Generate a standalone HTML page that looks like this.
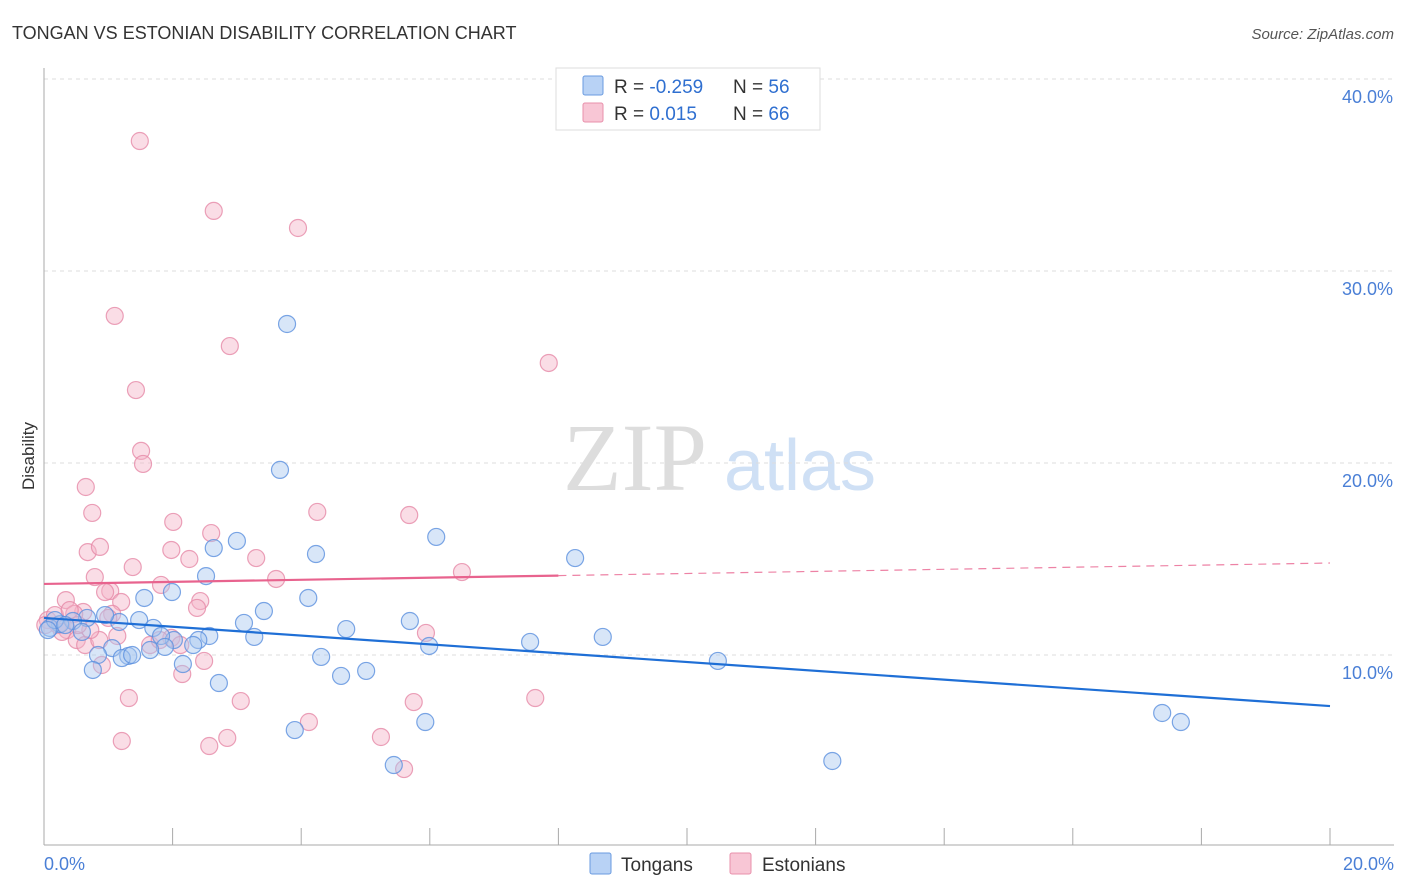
<!DOCTYPE html>
<html><head><meta charset="utf-8">
<style>
body{margin:0;background:#fff;font-family:"Liberation Sans",sans-serif;}
svg{display:block}
</style></head>
<body>
<svg id="chart" width="1406" height="892">
<text x="12" y="39" font-size="18" fill="#333">TONGAN VS ESTONIAN DISABILITY CORRELATION CHART</text>
<text x="1394" y="39" font-size="15" fill="#555" text-anchor="end" font-style="italic">Source: ZipAtlas.com</text>
<text x="34" y="456" font-size="17" fill="#333" text-anchor="middle" transform="rotate(-90 34 456)">Disability</text>
<g>
<text x="635" y="490" font-size="96" fill="#ddd" text-anchor="middle" font-family="Liberation Serif,serif">ZIP</text>
<text x="800" y="490" font-size="72" fill="#cfe0f5" text-anchor="middle">atlas</text>
</g>
<g id="grid"></g>
<g id="axes"></g>
<g id="points"></g>
<g id="trends"></g>
<g>
<rect x="556" y="68" width="264" height="62" fill="#fff" stroke="#ddd"/>
<rect x="583" y="76" width="20" height="19" fill="#b8d2f5" stroke="#6a9be0" rx="2"/>
<rect x="583" y="103" width="20" height="19" fill="#f8c6d5" stroke="#e890ab" rx="2"/>
<text x="614" y="93" font-size="19" fill="#333">R = <tspan fill="#2f6fd0"> -0.259</tspan></text>
<text x="733" y="93" font-size="19" fill="#333">N = <tspan fill="#2f6fd0">56</tspan></text>
<text x="614" y="120" font-size="19" fill="#333">R = <tspan fill="#2f6fd0">  0.015</tspan></text>
<text x="733" y="120" font-size="19" fill="#333">N = <tspan fill="#2f6fd0">66</tspan></text>
</g>
<g>
<rect x="590" y="853" width="21" height="21" fill="#b8d2f5" stroke="#6a9be0" rx="2"/>
<text x="621" y="871" font-size="19" fill="#333">Tongans</text>
<rect x="730" y="853" width="21" height="21" fill="#f8c6d5" stroke="#e890ab" rx="2"/>
<text x="762" y="871" font-size="19" fill="#333">Estonians</text>
</g>
</svg>
<script>
const yTicks=[10,20,30,40];
const yTickLabels=["10.0%","20.0%","30.0%","40.0%"];
const xTickLabels=["0.0%","20.0%"];
const tonganX=[3.78,3.67,6.10,8.26,3.00,2.64,4.23,2.52,1.56,1.99,4.11,3.42,3.11,5.69,4.70,1.48,1.70,2.57,3.27,2.02,1.82,2.40,1.17,0.67,0.45,0.25,0.59,7.56,8.69,5.99,1.88,2.32,1.06,0.84,1.31,1.21,1.37,4.31,2.16,0.76,4.62,5.01,2.72,10.48,17.39,17.68,5.93,3.90,5.44,12.26,0.09,0.17,0.06,0.33,0.95,1.65];
const tonganY=[27.24,19.64,16.15,15.05,15.94,15.57,15.26,14.11,12.97,13.28,12.97,12.29,11.67,11.77,11.35,11.82,11.41,10.99,10.94,10.78,10.99,10.78,11.72,11.93,11.77,11.61,11.20,10.68,10.94,10.47,10.42,10.52,10.36,10.00,9.95,9.84,10.00,9.90,9.53,9.22,8.91,9.17,8.54,9.69,6.98,6.51,6.51,6.09,4.27,4.48,11.41,11.82,11.30,11.56,12.08,10.26];
const estonianX=[1.49,2.64,3.95,1.10,2.89,7.85,1.43,1.51,1.54,0.65,0.75,4.25,5.68,2.01,2.60,0.68,0.87,1.98,3.30,2.26,1.38,0.79,6.50,3.61,1.82,1.03,0.34,2.43,1.20,2.38,0.61,1.06,0.47,1.00,0.06,0.22,0.36,0.51,0.64,0.86,5.94,1.14,1.98,1.65,2.12,0.90,2.49,2.15,1.32,3.06,7.64,5.75,4.12,2.85,1.21,2.57,5.24,5.60,0.17,0.28,0.40,0.72,0.95,1.80,0.02,0.53];
const estonianY=[36.77,33.13,32.24,27.66,26.09,25.21,23.80,20.63,19.95,18.75,17.40,17.45,17.29,16.93,16.35,15.36,15.63,15.47,15.05,15.00,14.58,14.06,14.32,13.96,13.65,13.33,12.86,12.81,12.76,12.45,12.24,12.14,12.14,11.93,11.82,11.56,11.30,10.78,10.52,10.78,11.15,10.99,10.89,10.52,10.52,9.48,9.69,9.01,7.76,7.60,7.76,7.55,6.51,5.68,5.52,5.26,5.73,4.06,12.08,11.20,12.34,11.30,13.28,10.78,11.56,11.56];
const tonganTrend=[11.93,7.34];
const estonianTrend=[13.70,14.79];
const estonianSolidEnd=8.0;

const NS="http://www.w3.org/2000/svg";
const X0=44,X1=1330,Y0=847,PXPER=19.2;
function sx(v){return X0+(v/20)*(X1-X0);}
function sy(v){return Y0-v*PXPER;}
function mk(t,a,p){const e=document.createElementNS(NS,t);for(const k in a)e.setAttribute(k,a[k]);p.appendChild(e);return e;}
const grid=document.getElementById('grid'),axes=document.getElementById('axes'),pts=document.getElementById('points'),tr=document.getElementById('trends');
yTicks.forEach((v,i)=>{
 const l=mk('line',{x1:44,x2:1394,y1:sy(v),y2:sy(v),stroke:'#ddd','stroke-dasharray':'4,4'},grid);
 
 
 const t=mk('text',{x:1393,y:sy(v)+24,'font-size':18,fill:'#4a7fd6','text-anchor':'end'},axes);
 t.textContent=yTickLabels[i];
 
 
});
const ax=mk('line',{x1:44,x2:44,y1:68,y2:845,stroke:'#aaa'},axes);


const bx=mk('line',{x1:44,x2:1394,y1:845,y2:845,stroke:'#aaa'},axes);


for(let i=1;i<=10;i++){
 const tk=mk('line',{x1:sx(i*2),x2:sx(i*2),y1:828,y2:845,stroke:'#aaa'},axes);
 
 
}
[[0,'start',44],[1,'end',1394]].forEach(([i,a,x])=>{
 const t=mk('text',{x:x,y:870,'font-size':18,fill:'#4a7fd6','text-anchor':a},axes);
 t.textContent=xTickLabels[i];
 
 
});
function drawPts(X,Y,fill,stroke,name){
 X.forEach((x,i)=>{
  const c=mk('circle',{cx:sx(x),cy:sy(Y[i]),r:8.5,fill:fill,'fill-opacity':0.45,stroke:stroke,'stroke-opacity':0.8,'stroke-width':1.2},pts);
  
  
 });
}
drawPts(estonianX,estonianY,'#f5b3c7','#e68aa8','estonian-point');
drawPts(tonganX,tonganY,'#a9c8f0','#5b90de','tongan-point');
const bl=mk('line',{x1:sx(0),y1:sy(tonganTrend[0]),x2:sx(20),y2:sy(tonganTrend[1]),stroke:'#1f6fd6','stroke-width':2.2},tr);


const pm=estonianTrend[0]+(estonianTrend[1]-estonianTrend[0])*estonianSolidEnd/20;
const pl=mk('line',{x1:sx(0),y1:sy(estonianTrend[0]),x2:sx(estonianSolidEnd),y2:sy(pm),stroke:'#e8638e','stroke-width':2.2},tr);


const pd=mk('line',{x1:sx(estonianSolidEnd),y1:sy(pm),x2:sx(20),y2:sy(estonianTrend[1]),stroke:'#e8638e','stroke-width':1.2,'stroke-dasharray':'8,6','stroke-opacity':0.8},tr);


</script>
</body></html>
